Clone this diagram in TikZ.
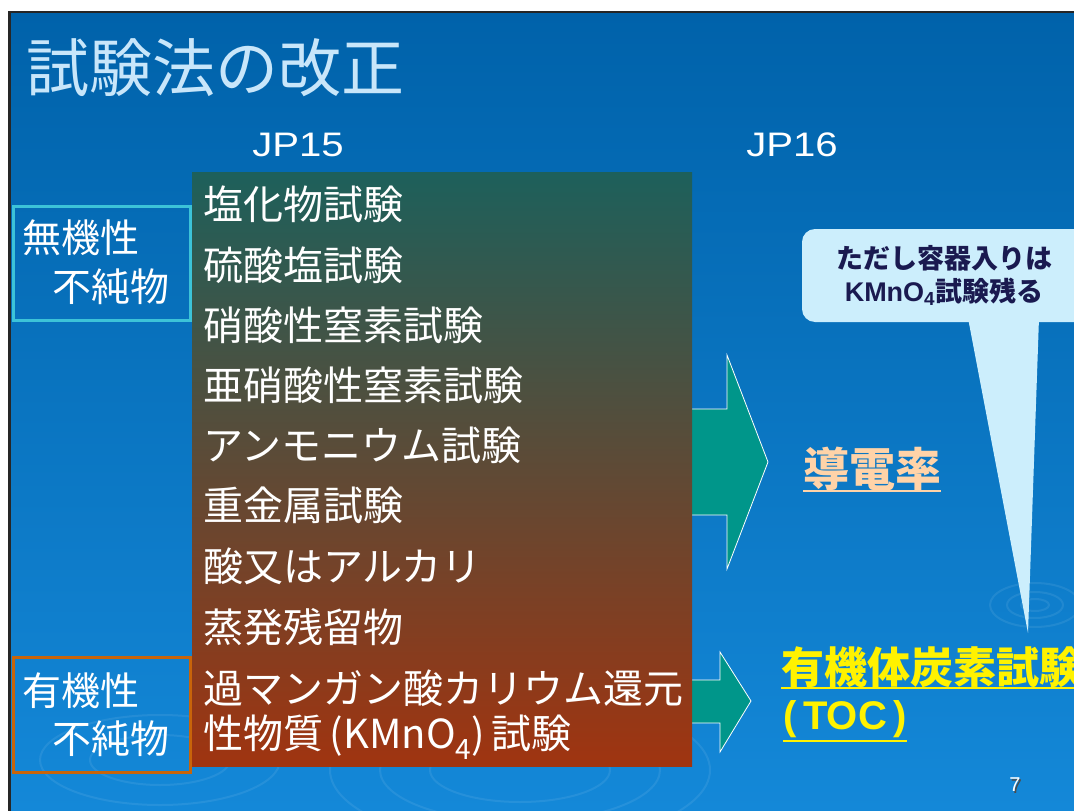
\documentclass[tikz,border=0pt]{standalone}
\usepackage{fontspec}
\setmainfont{Liberation Sans}
\newfontfamily\jp{Noto Sans CJK JP}
\definecolor{bgtop}{HTML}{0062AA}
\definecolor{bgmid}{HTML}{006AB6}
\definecolor{bgbot}{HTML}{1488D8}
\definecolor{titlec}{HTML}{C8E6FA}
\definecolor{boxtop}{HTML}{1D605B}
\definecolor{boxmid}{HTML}{605858}
\definecolor{boxbot}{HTML}{A03410}
\definecolor{arrowc}{HTML}{00968A}
\definecolor{callc}{HTML}{CCEEFC}
\definecolor{calltext}{HTML}{1A1A50}
\definecolor{peach}{HTML}{FFD3A8}
\definecolor{cyanb}{HTML}{3CC3D8}
\definecolor{orangeb}{HTML}{C8640A}
\tikzset{
  item/.style={anchor=west, inner sep=0pt, text=white, font=\jp\fontsize{40}{40}\selectfont},
  side/.style={anchor=west, inner sep=0pt, text=white, font=\jp\fontsize{39}{39}\selectfont},
  jphead/.style={inner sep=0pt, text=white, font=\fontsize{34}{34}\selectfont},
  fatarrow/.style={fill=arrowc, draw=white, line width=0.8pt, line join=miter},
  ripple/.style={draw=white, opacity=0.08, line width=2pt},
}
\begin{document}
\begin{tikzpicture}[x=1pt, y=-1pt]
\useasboundingbox (0,0) rectangle (1074,811);
\fill[white] (0,0) rectangle (1074,811);
\shade[top color=bgtop, middle color=bgmid, bottom color=bgbot] (10,12) rectangle (1074,811);
\draw[black!85, line width=2.5pt] (9.5,811) -- (9.5,12) -- (1074,12);
% ripples
\draw[ripple] (520,770) ellipse (190 and 75);
\draw[ripple] (520,770) ellipse (140 and 52);
\draw[ripple] (520,770) ellipse (90 and 32);
\draw[ripple] (160,760) ellipse (120 and 45);
\draw[ripple] (160,760) ellipse (70 and 25);
\draw[ripple] (1035,605) ellipse (45 and 22);
\draw[ripple] (1035,605) ellipse (28 and 13);
\draw[ripple] (1035,605) ellipse (14 and 6);
% title
\node[anchor=west, inner sep=0pt, text=titlec, font=\jp\fontsize{63}{63}\selectfont] (title) at (26,68) {試験法の改正};
\node[jphead] (jp15) at (298,145) {\scalebox{1.18}[1]{JP15}};
\node[jphead] (jp16) at (792,145) {\scalebox{1.18}[1]{JP16}};
% arrows
\draw[fatarrow] (690,409) -- (727,409) -- (727,355) -- (768,462) -- (727,569) -- (727,515) -- (690,515) -- cycle;
\draw[fatarrow] (690,680) -- (720,680) -- (720,652) -- (751,701) -- (720,752) -- (720,723) -- (690,723) -- cycle;
% main list box
\node[rectangle, inner sep=0pt, minimum width=500pt, minimum height=594pt,
      top color=boxtop, middle color=boxmid, bottom color=boxbot, shading angle=0] (listbox) at (442,469) {};
\node[item] (i1) at (203,204) {塩化物試験};
\node[item] (i2) at (203,265) {硫酸塩試験};
\node[item] (i3) at (203,325) {硝酸性窒素試験};
\node[item] (i4) at (203,385) {亜硝酸性窒素試験};
\node[item] (i5) at (203,445) {アンモニウム試験};
\node[item] (i6) at (203,505) {重金属試験};
\node[item] (i7) at (203,566) {酸又はアルカリ};
\node[item] (i8) at (203,627) {蒸発残留物};
\node[item] (i9) at (203,688) {過マンガン酸カリウム還元};
\node[item] (i10) at (203,737) {性物質\,(KMnO\textsubscript{4})\,試験};
% side boxes
\draw[cyanb, line width=3pt] (13,206) rectangle (190,320);
\node[side] (inorg1) at (22,238) {無機性};
\node[side] (inorg2) at (52,287) {不純物};
\draw[orangeb, line width=3pt] (13,657) rectangle (190,772);
\node[side] (org1) at (22,691) {有機性};
\node[side] (org2) at (52,739) {不純物};
% callout
\fill[callc, rounded corners=13pt] (802,229) rectangle (1100,322);
\fill[callc] (968,318) -- (1039,318) -- (1028,633) -- cycle;
\node[inner sep=0pt, text=calltext, font=\jp\bfseries\fontsize{27}{27}\selectfont] (c1) at (944,258) {ただし容器入りは};
\node[inner sep=0pt, text=calltext, font=\fontsize{27}{27}\selectfont] (c2) at (944,292) {\textbf{KMnO\textsubscript{4}}{\jp\bfseries 試験残る}};
% results
\node[anchor=west, inner sep=0pt, text=peach, font=\jp\bfseries\fontsize{46}{46}\selectfont] (cond) at (803,469) {導電率};
\draw[peach, line width=2pt] (cond.south west) -- (cond.south east);
\node[anchor=west, inner sep=0pt, text=yellow, font=\jp\bfseries\fontsize{43}{43}\selectfont] (toc1) at (781,667) {有機体炭素試験};
\draw[yellow, line width=2pt] (toc1.south west) -- (toc1.south east);
\node[anchor=west, inner sep=0pt, text=yellow, font=\bfseries\fontsize{40}{40}\selectfont] (toc2) at (783,719) {(\,TOC\,)};
\draw[yellow, line width=2pt] ([yshift=-3pt]toc2.south west) -- ([yshift=-3pt]toc2.south east);
% page number
\node[text=black!70, font=\fontsize{20}{20}\selectfont] at (1016.5,786.5) {7};
\node[text=white, font=\fontsize{20}{20}\selectfont] (pg) at (1015,785) {7};
\end{tikzpicture}
\end{document}
